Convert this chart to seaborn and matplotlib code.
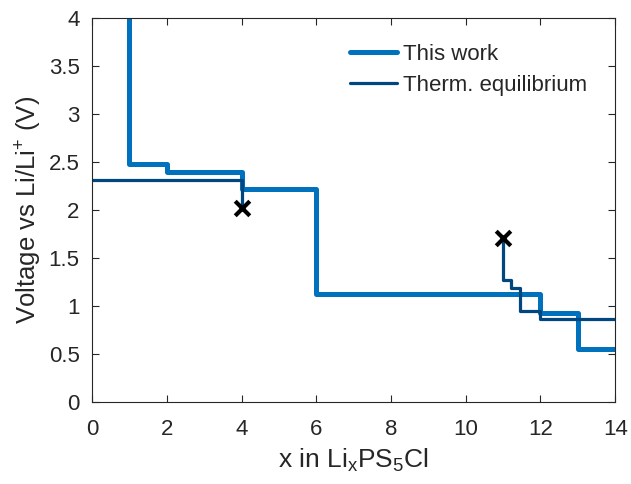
import numpy as np
import pandas as pd
import matplotlib
matplotlib.use('Agg')
import matplotlib.pyplot as plt
import seaborn as sns

sns.set_style('ticks')
plt.rcParams['font.family'] = ['Liberation Sans', 'DejaVu Sans']
plt.rcParams['mathtext.default'] = 'regular'

# This work (step profile)
work_x = [1, 1, 2, 4, 6, 12, 13, 14]
work_v = [4.0, 2.48, 2.40, 2.22, 1.13, 0.93, 0.55, 0.55]

# Thermodynamic equilibrium, two segments
eq1_x = [0, 4, 4]
eq1_v = [2.31, 2.31, 2.02]
eq2_x = [11, 11, 11.2, 11.45, 12, 14]
eq2_v = [1.71, 1.27, 1.19, 0.95, 0.87, 0.87]

# crosses
cross_x = [4, 11]
cross_v = [2.02, 1.71]

light = '#0072BD'
dark = '#00467F'

fig = plt.figure(figsize=(6.31, 4.84), dpi=100)
ax = fig.add_axes([0.146, 0.169, 0.829, 0.794])

sns.lineplot(x=work_x, y=work_v, sort=False, estimator=None, drawstyle='steps-post',
             color=light, linewidth=3.6, label='This work', ax=ax)
sns.lineplot(x=eq1_x, y=eq1_v, sort=False, estimator=None, drawstyle='steps-post',
             color=dark, linewidth=2.3, label='Therm. equilibrium', ax=ax)
sns.lineplot(x=eq2_x, y=eq2_v, sort=False, estimator=None, drawstyle='steps-post',
             color=dark, linewidth=2.3, ax=ax)
sns.scatterplot(x=cross_x, y=cross_v, marker='x', s=110, color='black',
                linewidth=3, ax=ax, zorder=5)

ax.set_xlim(0, 14)
ax.set_ylim(0, 4)
ax.set_xticks(np.arange(0, 15, 2))
ax.set_yticks(np.arange(0, 4.01, 0.5))
ax.set_yticklabels(['0', '0.5', '1', '1.5', '2', '2.5', '3', '3.5', '4'])
ax.tick_params(direction='in', labelsize=16, length=5, width=0.8,
               top=True, right=True, colors='#262626')
ax.tick_params(axis='x', pad=12)
ax.tick_params(axis='y', pad=9)
for s in ax.spines.values():
    s.set_color('#262626')
    s.set_linewidth(0.8)

ax.set_xlabel('x in Li$_x$PS$_5$Cl', fontsize=19, color='#262626', labelpad=5)
ax.set_ylabel('Voltage vs Li/Li$^{+}$ (V)', fontsize=18.5, color='#262626', labelpad=3)

ax.legend(loc='upper right', frameon=False, fontsize=16, handlelength=2.1,
          handletextpad=0.3, labelspacing=0.45, bbox_to_anchor=(0.985, 0.985))

fig.savefig('out.png', dpi=100)
